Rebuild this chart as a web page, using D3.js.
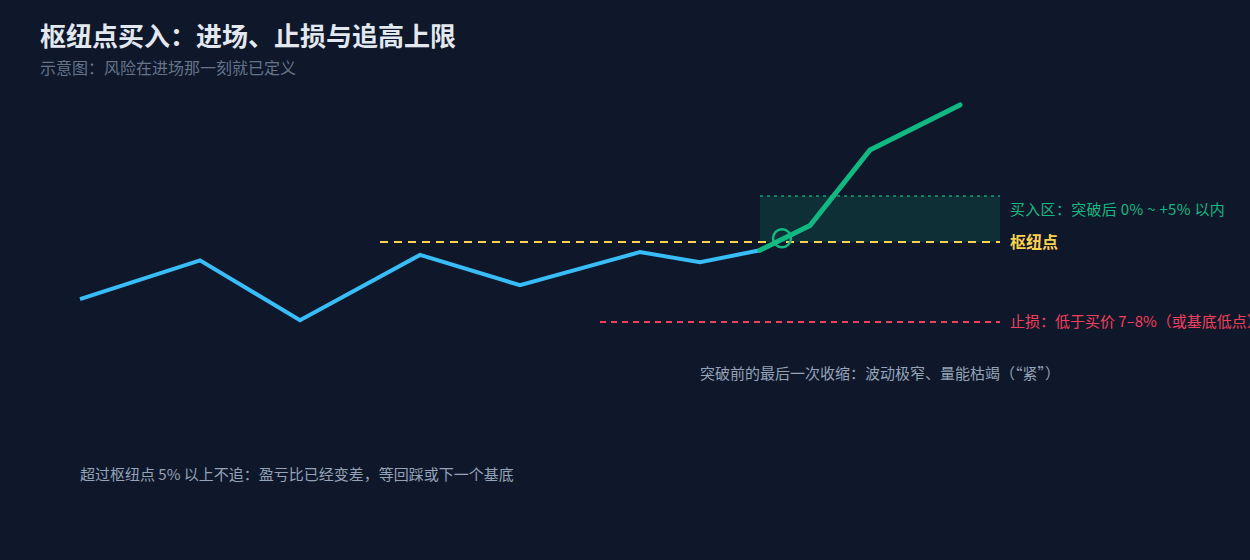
<!DOCTYPE html>
<html><head><meta charset="utf-8">
<script src="https://cdn.jsdelivr.net/npm/d3@7"></script>
<style>
html,body{margin:0;padding:0;background:#0f172a;}
svg{display:block;}
text{font-family:"Noto Sans CJK SC","Noto Sans",sans-serif;}
</style></head>
<body><svg id="c" width="1250" height="560"></svg>
<script>
// Data (price index: pivot = 100)
const baseT = [0, 12, 22, 34, 44, 56, 62, 68];
const baseP = [93.8, 98.0, 91.5, 98.6, 95.3, 98.9, 97.8, 99.1];
const breakT = [68, 73, 79, 88];
const breakP = [99.1, 101.8, 110.0, 114.9];
const pivot = 100;
const buyTop = 105;
const stopP = 91.3;
const entry = {t: 70.2, p: 100.4};
const titleText = "枢纽点买入：进场、止损与追高上限";
const subtitleText = "示意图：风险在进场那一刻就已定义";
const labels = {
  buy: "买入区：突破后 0% ~ +5% 以内",
  pivot: "枢纽点",
  stop: "止损：低于买价 7–8%（或基底低点）",
  tight: "突破前的最后一次收缩：波动极窄、量能枯竭（“紧”）",
  chase: "超过枢纽点 5% 以上不追：盈亏比已经变差，等回踩或下一个基底"
};

const svg = d3.select("#c");
const x = d3.scaleLinear().domain([0, 100]).range([80, 1080]);
const y = d3.scaleLinear().domain([90, 115]).range([334, 104]);

svg.append("rect").attr("width",1250).attr("height",560).attr("fill","#0f172a");

svg.append("text").attr("x",40).attr("y",46).attr("fill","#e2e8f0")
  .attr("font-size",26).attr("font-weight",700).text(titleText);
svg.append("text").attr("x",40).attr("y",74).attr("fill","#64748b")
  .attr("font-size",16).text(subtitleText);

// buy zone
svg.append("rect").attr("x",x(68)).attr("y",y(buyTop))
  .attr("width",x(92)-x(68)).attr("height",y(pivot)-y(buyTop))
  .attr("fill","#10b981").attr("fill-opacity",0.15);
svg.append("line").attr("x1",x(68)).attr("x2",x(92)).attr("y1",y(buyTop)).attr("y2",y(buyTop))
  .attr("stroke","#10b981").attr("stroke-width",1.5).attr("stroke-dasharray","3,4").attr("opacity",0.85);

// pivot line
svg.append("line").attr("x1",x(30)).attr("x2",x(92)).attr("y1",y(pivot)).attr("y2",y(pivot))
  .attr("stroke","#fcd34d").attr("stroke-width",2).attr("stroke-dasharray","8,6");
// stop line
svg.append("line").attr("x1",x(52)).attr("x2",x(92)).attr("y1",y(stopP)).attr("y2",y(stopP))
  .attr("stroke","#f43f5e").attr("stroke-width",2).attr("stroke-dasharray","6,5");

const line = d3.line().x(d=>x(d[0])).y(d=>y(d[1]));
svg.append("path").datum(d3.zip(baseT, baseP)).attr("d",line)
  .attr("fill","none").attr("stroke","#38bdf8").attr("stroke-width",4).attr("stroke-linejoin","miter");
svg.append("path").datum(d3.zip(breakT, breakP)).attr("d",line)
  .attr("fill","none").attr("stroke","#10b981").attr("stroke-width",5).attr("stroke-linecap","round");

svg.append("circle").attr("cx",x(entry.t)).attr("cy",y(entry.p)).attr("r",9)
  .attr("fill","none").attr("stroke","#10b981").attr("stroke-width",2.5);

svg.append("text").attr("x",1010).attr("y",y(buyTop)+19).attr("fill","#10b981").attr("font-size",15)
  .attr("letter-spacing",0.3).text(labels.buy);
svg.append("text").attr("x",1010).attr("y",y(pivot)+6).attr("fill","#fcd34d").attr("font-size",16).attr("font-weight",700).text(labels.pivot);
svg.append("text").attr("x",1010).attr("y",y(stopP)+5).attr("fill","#f43f5e").attr("font-size",15).text(labels.stop);
svg.append("text").attr("x",700).attr("y",379).attr("fill","#94a3b8").attr("font-size",15).text(labels.tight);
svg.append("text").attr("x",80).attr("y",480).attr("fill","#94a3b8").attr("font-size",15).text(labels.chase);
</script></body></html>
